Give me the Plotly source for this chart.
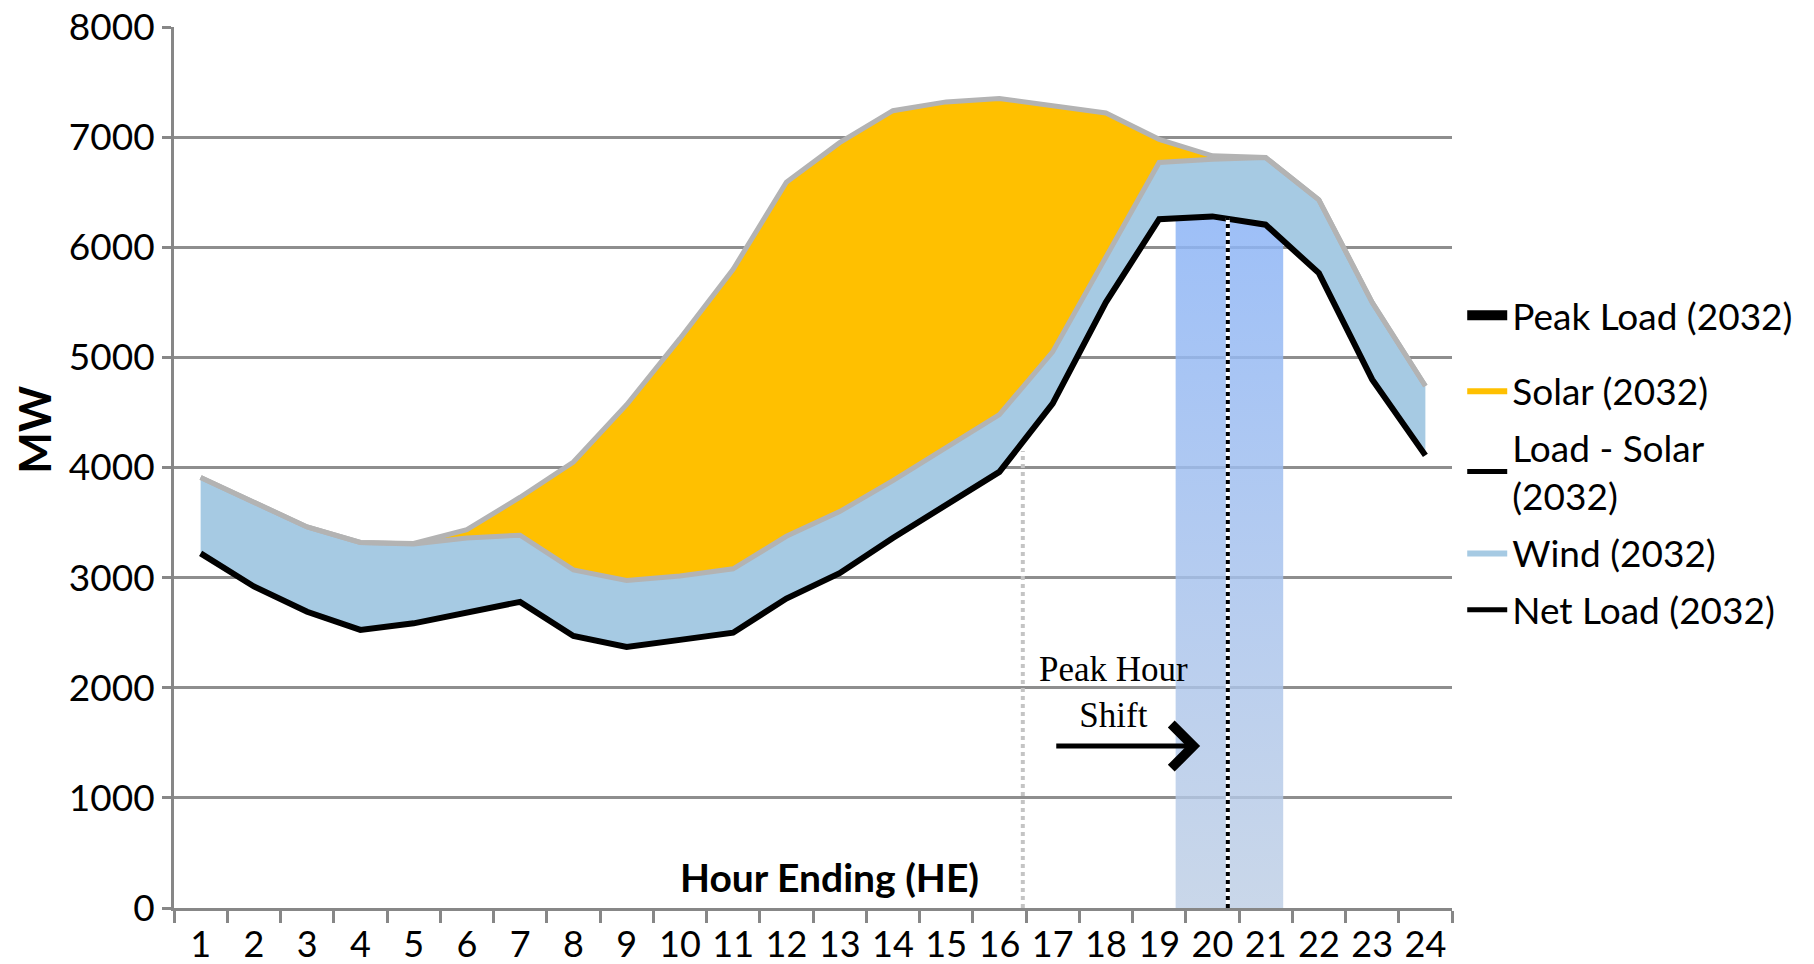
import plotly.graph_objects as go

# ---------------- data ----------------
hours = list(range(1, 25))
peak_load = [3910, 3680, 3460, 3320, 3310, 3435, 3730, 4050, 4570, 5170, 5800, 6590,
             6950, 7240, 7320, 7350, 7290, 7220, 6980, 6830, 6815, 6430, 5500, 4740]
load_minus_solar = [3910, 3680, 3460, 3320, 3305, 3360, 3385, 3070, 2975, 3015, 3080, 3375,
                    3600, 3880, 4180, 4480, 5050, 5920, 6770, 6800, 6815, 6430, 5500, 4740]
net_load = [3220, 2920, 2690, 2525, 2585, 2680, 2780, 2470, 2370, 2435, 2500, 2810,
            3040, 3360, 3660, 3960, 4580, 5500, 6255, 6280, 6205, 5765, 4800, 4110]

legend_names = ["Peak Load (2032)", "Solar (2032)", "Load - Solar<br>(2032)", "Wind (2032)", "Net Load (2032)"]

old_peak_marker = 16.44          # old peak hour (end of HE16)
new_peak_band = (19.31, 21.33)   # highlighted new peak window
new_peak_marker = 20.29          # new peak hour line
band_top = 6300
old_peak_top = 4150
new_peak_top = 6265
arrow_from, arrow_to, arrow_level = 17.04, 19.77, 1470

y_ticks = list(range(0, 8001, 1000))

# ---------------- styles ----------------
FONT = "Lato"
ORANGE = "#FFC000"
WIND = "#A6CAE3"
GRAY = "#B3B3B3"
GRID = "#8E8E8E"

fig = go.Figure()

# gradient highlight band (behind areas)
bx = [new_peak_band[0], new_peak_band[1], new_peak_band[1], new_peak_band[0], new_peak_band[0]]
by = [0, 0, band_top, band_top, 0]
fig.add_trace(go.Scatter(
    x=bx, y=by, mode="lines", line=dict(width=0), fill="toself",
    fillgradient=dict(type="vertical", start=0, stop=band_top,
                      colorscale=[[0, "rgba(188,205,228,0.8)"], [1, "rgba(140,180,246,0.85)"]]),
    showlegend=False, hoverinfo="skip"))

# baseline for wind fill
fig.add_trace(go.Scatter(x=hours, y=net_load, mode="lines", line=dict(width=0),
                         showlegend=False, hoverinfo="skip"))
# wind area (net load -> load-solar)
fig.add_trace(go.Scatter(x=hours, y=load_minus_solar, mode="lines", fill="tonexty",
                         fillcolor=WIND, line=dict(color=GRAY, width=5),
                         showlegend=False))
# solar area (load-solar -> peak load)
fig.add_trace(go.Scatter(x=hours, y=peak_load, mode="lines", fill="tonexty",
                         fillcolor=ORANGE, line=dict(color=GRAY, width=5),
                         showlegend=False))
# net load line
fig.add_trace(go.Scatter(x=hours, y=net_load, mode="lines",
                         line=dict(color="black", width=6), showlegend=False))

# legend entries
fig.add_trace(go.Scatter(x=[None], y=[None], mode="lines", name=legend_names[0],
                         line=dict(color="black", width=10), legend="legend"))
fig.add_trace(go.Scatter(x=[None], y=[None], mode="lines", name=legend_names[1],
                         fill="toself", fillcolor=ORANGE, line=dict(color=ORANGE, width=0),
                         legend="legend2", legendgroup="b"))
fig.add_trace(go.Scatter(x=[None], y=[None], mode="lines", name=legend_names[2],
                         line=dict(color="black", width=5), legend="legend2", legendgroup="c"))
fig.add_trace(go.Scatter(x=[None], y=[None], mode="lines", name=legend_names[3],
                         fill="toself", fillcolor=WIND, line=dict(color=WIND, width=0),
                         legend="legend2", legendgroup="d"))
fig.add_trace(go.Scatter(x=[None], y=[None], mode="lines", name=legend_names[4],
                         line=dict(color="black", width=5), legend="legend2", legendgroup="e"))

# vertical marker lines
fig.add_shape(type="line", x0=old_peak_marker, x1=old_peak_marker, y0=0, y1=old_peak_top,
              xref="x", yref="y", line=dict(color="#C4C4C4", width=4, dash="dot"))
fig.add_shape(type="line", x0=new_peak_marker, x1=new_peak_marker, y0=0, y1=new_peak_top,
              xref="x", yref="y", line=dict(color="white", width=4))
fig.add_shape(type="line", x0=new_peak_marker, x1=new_peak_marker, y0=0, y1=new_peak_top,
              xref="x", yref="y", line=dict(color="black", width=4, dash="dot"))

# arrow + label
fig.add_annotation(x=arrow_to, y=arrow_level, ax=arrow_from, ay=arrow_level,
                   xref="x", yref="y", axref="x", ayref="y", text="",
                   showarrow=True, arrowhead=4, arrowsize=1.7, arrowwidth=5, arrowcolor="black")
fig.add_annotation(x=18.15, y=1960, xref="x", yref="y",
                   text="Peak Hour<br>Shift", showarrow=False,
                   font=dict(family="Liberation Serif", size=35, color="black"))
fig.add_annotation(x=12.81, y=285, xref="x", yref="y", text="<b>Hour Ending (HE)</b>",
                   showarrow=False, font=dict(family=FONT, size=39, color="black"))
fig.add_annotation(x=-0.1095, y=0.543, xref="paper", yref="paper", text="<b>MW</b>",
                   xanchor="center", yanchor="middle",
                   textangle=-90, showarrow=False, font=dict(family=FONT, size=44, color="black"))

fig.update_layout(
    width=1814, height=964,
    margin=dict(l=166, r=370, t=19, b=64, autoexpand=False),
    paper_bgcolor="white", plot_bgcolor="white",
    font=dict(family=FONT, size=36, color="black"),
    showlegend=True,
    legend=dict(x=1.008, y=0.7075, xanchor="left", yanchor="top",
                font=dict(family=FONT, size=37, color="black"),
                itemwidth=40, bgcolor="rgba(0,0,0,0)"),
    legend2=dict(x=1.008, y=0.6223, xanchor="left", yanchor="top",
                 font=dict(family=FONT, size=37, color="black"),
                 tracegroupgap=6, itemwidth=40, bgcolor="rgba(0,0,0,0)"),
    xaxis=dict(range=[0.5, 24.5], tickmode="array", tickvals=hours, automargin=False,
               ticktext=[str(h) for h in hours], ticks="", showgrid=False,
               showline=True, linecolor="#878787", linewidth=3, zeroline=False,
               ticklabelstandoff=3,
               tickfont=dict(family=FONT, size=36, color="black"),
               minor=dict(tick0=0.5, dtick=1, ticks="outside", ticklen=12,
                          tickwidth=3, tickcolor="#878787", showgrid=False)),
    yaxis=dict(range=[0, 8000], tickmode="array", tickvals=y_ticks, automargin=False,
               showgrid=True, gridcolor=GRID, gridwidth=3, ticklabeloverflow="allow",
               showline=True, linecolor="#878787", linewidth=3, zeroline=False,
               ticks="outside", ticklen=9, tickwidth=3, tickcolor="#878787",
               tickfont=dict(family=FONT, size=37, color="black")),
)

fig.write_html("out.html")
